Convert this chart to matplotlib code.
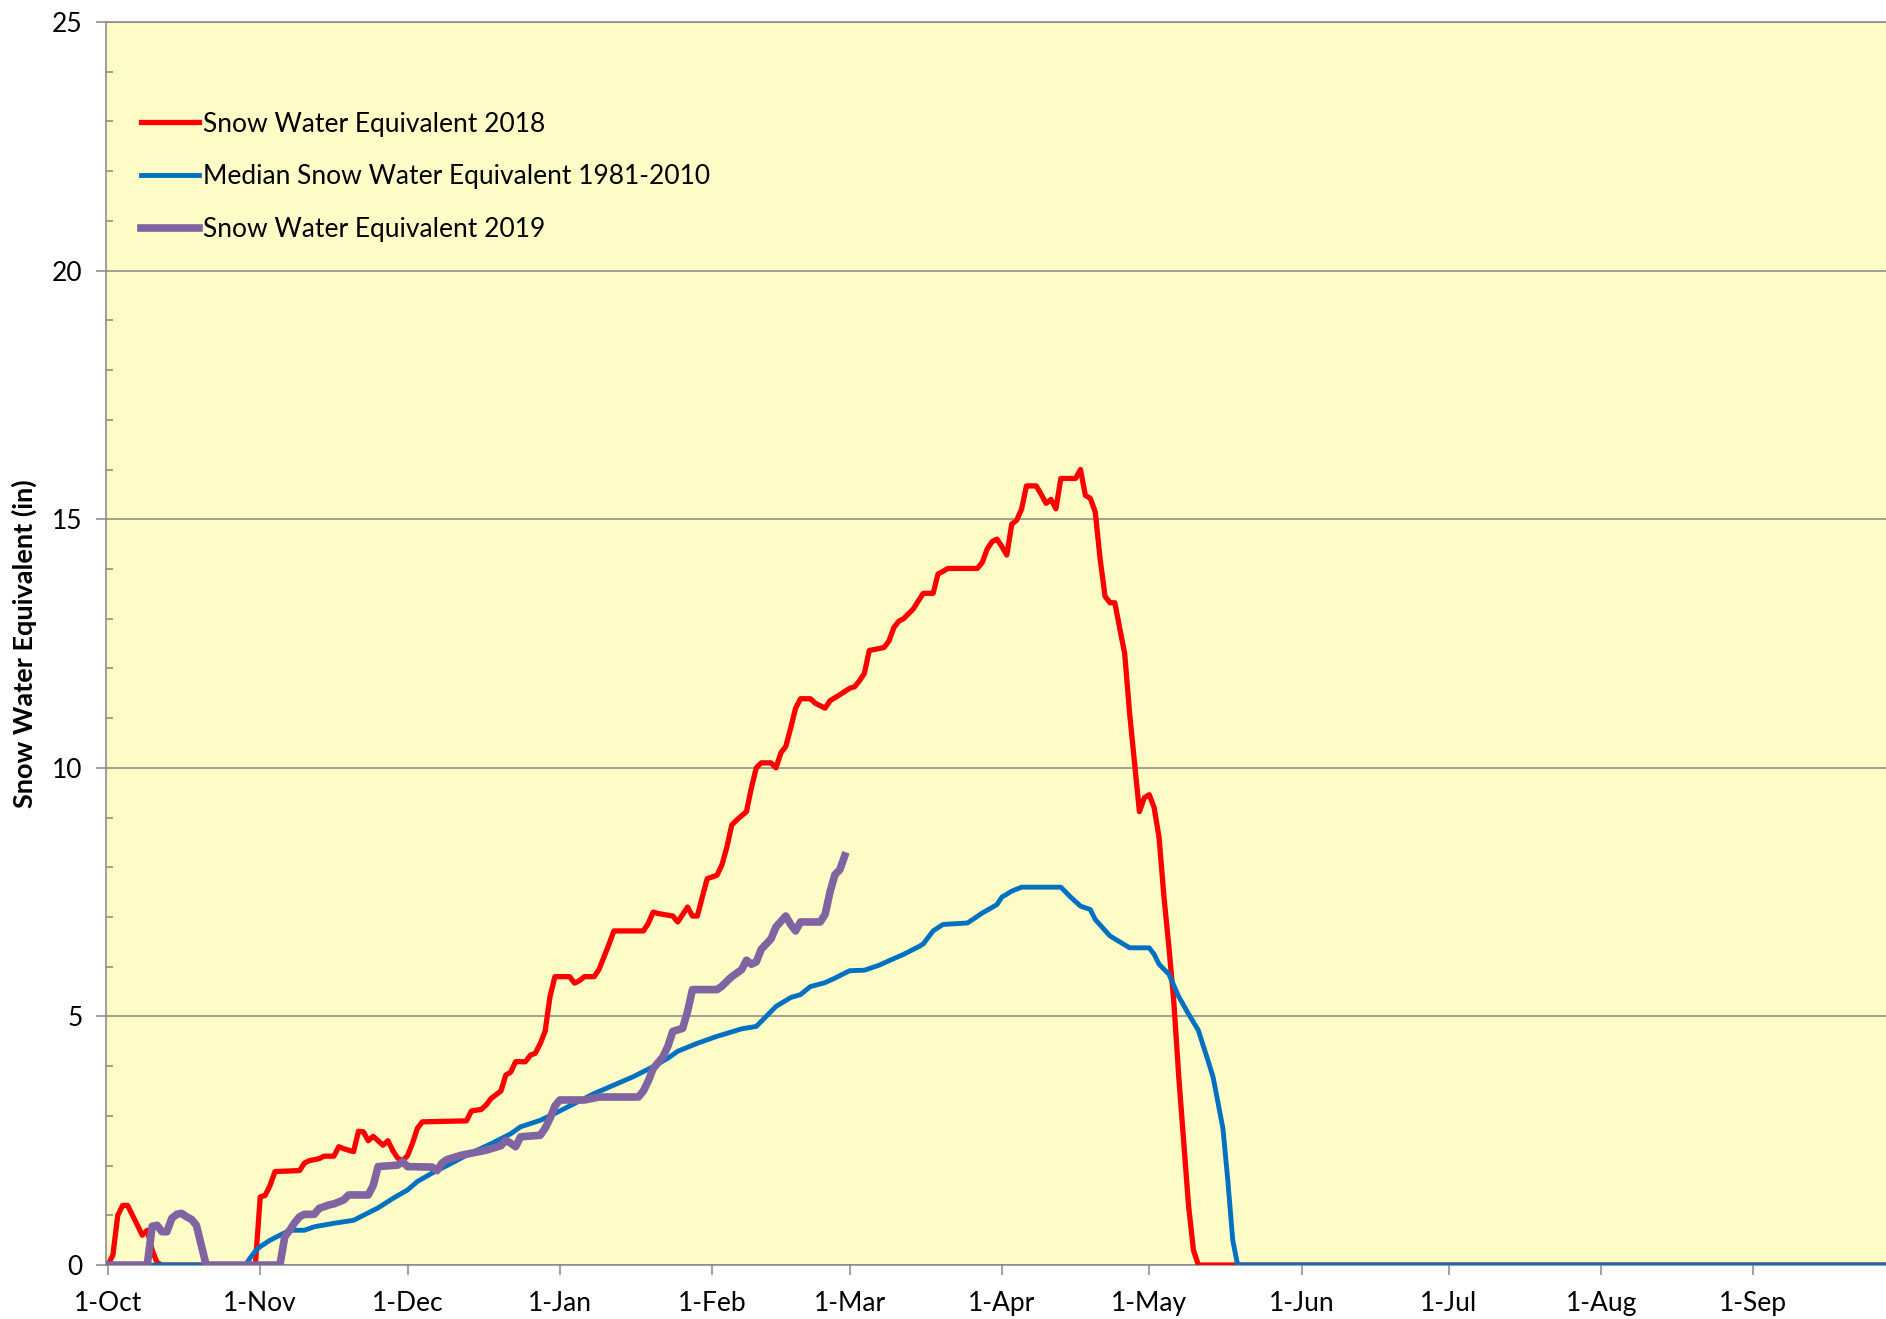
import matplotlib
matplotlib.use("Agg")
import matplotlib.pyplot as plt
from matplotlib.ticker import MultipleLocator

plt.rcParams['font.family'] = ['Lato', 'DejaVu Sans']

# day of water year (0 = 1-Oct) and snow water equivalent (in)
swe_2018_day = [0, 1, 2, 3, 4, 5, 6, 7, 8, 9, 10, 11, 30, 31, 32, 33, 34, 39, 40, 41, 43, 44, 46, 47,
                48, 50, 51, 52, 53, 54, 56, 57, 58, 59, 60, 61, 62, 63, 64, 73, 74, 76, 77, 78, 80, 81,
                82, 83, 85, 86, 87, 88, 89, 90, 91, 94, 95, 96, 97, 99, 100, 101, 102, 103, 109, 110,
                111, 112, 115, 116, 117, 118, 119, 120, 121, 122, 124, 125, 126, 127, 128, 130, 131,
                132, 133, 135, 136, 137, 138, 139, 140, 141, 143, 144, 146, 147, 149, 151, 152, 153,
                154, 155, 158, 159, 160, 161, 162, 163, 164, 165, 166, 168, 169, 170, 171, 177, 178,
                179, 180, 181, 182, 183, 184, 185, 186, 187, 189, 190, 191, 192, 193, 194, 197, 198,
                199, 200, 201, 202, 203, 204, 205, 206, 207, 208, 209, 210, 211, 212, 213, 214, 215,
                216, 217, 218, 219, 220, 221, 222, 364]
swe_2018 = [0, 0.2, 1.0, 1.2, 1.2, 1.0, 0.8, 0.6, 0.7, 0.3, 0.05, 0, 0, 1.37, 1.4, 1.6, 1.88, 1.9, 2.05,
            2.1, 2.14, 2.19, 2.19, 2.38, 2.34, 2.28, 2.69, 2.68, 2.5, 2.59, 2.41, 2.5, 2.3, 2.15, 2.1,
            2.2, 2.45, 2.75, 2.88, 2.9, 3.1, 3.13, 3.22, 3.35, 3.5, 3.82, 3.88, 4.09, 4.09, 4.22, 4.26,
            4.45, 4.7, 5.4, 5.8, 5.8, 5.67, 5.72, 5.8, 5.8, 5.95, 6.2, 6.45, 6.72, 6.72, 6.87, 7.1,
            7.07, 7.02, 6.9, 7.05, 7.2, 7.02, 7.02, 7.4, 7.77, 7.84, 8.05, 8.4, 8.85, 8.95, 9.12, 9.6,
            10.0, 10.1, 10.1, 10.0, 10.3, 10.43, 10.8, 11.2, 11.39, 11.39, 11.3, 11.2, 11.35, 11.47,
            11.6, 11.63, 11.75, 11.9, 12.36, 12.42, 12.55, 12.82, 12.95, 13.0, 13.1, 13.2, 13.36,
            13.51, 13.51, 13.9, 13.95, 14.01, 14.01, 14.13, 14.4, 14.55, 14.6, 14.45, 14.28, 14.9,
            14.98, 15.2, 15.67, 15.67, 15.5, 15.32, 15.4, 15.21, 15.82, 15.82, 16.0, 15.48, 15.42,
            15.15, 14.2, 13.45, 13.32, 13.32, 12.8, 12.3, 11.1, 10.1, 9.12, 9.4, 9.46, 9.2, 8.6, 7.4,
            6.4, 5.3, 3.8, 2.5, 1.2, 0.3, 0, 0]

median_day = [0, 28, 29, 30, 31, 33, 35, 37, 40, 42, 46, 50, 52, 55, 58, 61, 63, 66, 68, 70, 73, 78,
              82, 84, 88, 91, 95, 99, 103, 107, 111, 114, 116, 120, 124, 129, 132, 133, 136, 139,
              141, 143, 146, 148, 151, 154, 157, 159, 162, 165, 166, 168, 170, 175, 178, 181, 182,
              184, 186, 194, 196, 198, 200, 201, 204, 206, 208, 212, 213, 214, 216, 218, 220, 222,
              224, 225, 227, 228, 229, 230, 364]
median_swe = [0, 0, 0.15, 0.28, 0.37, 0.5, 0.6, 0.7, 0.7, 0.77, 0.84, 0.9, 1.0, 1.15, 1.34, 1.51,
              1.68, 1.85, 1.95, 2.05, 2.21, 2.44, 2.64, 2.78, 2.91, 3.05, 3.25, 3.45, 3.62, 3.79,
              3.99, 4.16, 4.3, 4.46, 4.6, 4.75, 4.8, 4.9, 5.2, 5.38, 5.44, 5.6, 5.68, 5.77, 5.92,
              5.93, 6.03, 6.12, 6.25, 6.4, 6.46, 6.72, 6.85, 6.88, 7.08, 7.25, 7.4, 7.52, 7.6, 7.6,
              7.4, 7.22, 7.15, 6.95, 6.62, 6.5, 6.38, 6.38, 6.25, 6.05, 5.85, 5.4, 5.05, 4.72, 4.1,
              3.78, 2.75, 1.7, 0.5, 0, 0]

swe_2019_day = [0, 8, 9, 10, 11, 12, 13, 14, 15, 16, 17, 18, 19, 20, 35, 36, 37, 38, 39, 40, 42, 43,
                45, 46, 48, 49, 53, 54, 55, 59, 60, 61, 66, 67, 68, 69, 72, 77, 80, 81, 82, 83, 84,
                88, 89, 90, 91, 92, 97, 100, 108, 109, 110, 111, 113, 114, 115, 117, 118, 119, 124,
                125, 127, 129, 130, 131, 132, 133, 135, 136, 138, 139, 140, 141, 145, 146, 147, 148,
                149, 150]
swe_2019 = [0, 0, 0.78, 0.8, 0.67, 0.67, 0.94, 1.02, 1.04, 0.97, 0.92, 0.8, 0.4, 0, 0, 0.57, 0.7,
            0.85, 0.97, 1.02, 1.02, 1.14, 1.21, 1.23, 1.31, 1.41, 1.41, 1.6, 1.98, 2.01, 2.08, 1.98,
            1.97, 1.9, 2.05, 2.12, 2.21, 2.31, 2.4, 2.51, 2.45, 2.38, 2.58, 2.61, 2.75, 2.95, 3.2,
            3.32, 3.32, 3.38, 3.38, 3.5, 3.7, 3.95, 4.19, 4.4, 4.7, 4.76, 5.1, 5.54, 5.54, 5.61, 5.8,
            5.94, 6.13, 6.05, 6.1, 6.35, 6.56, 6.8, 7.02, 6.85, 6.72, 6.9, 6.9, 7.05, 7.5, 7.85, 7.95,
            8.23]

month_labels = ['1-Oct', '1-Nov', '1-Dec', '1-Jan', '1-Feb', '1-Mar', '1-Apr', '1-May', '1-Jun',
                '1-Jul', '1-Aug', '1-Sep']
month_lengths = [31, 30, 31, 31, 28, 31, 30, 31, 30, 31, 31, 30]

month_starts = [sum(month_lengths[:i]) for i in range(len(month_labels))]

fig = plt.figure(figsize=(18.86, 13.19), dpi=100)
ax = fig.add_axes([0.0562, 0.0409, 0.9438, 0.9424])
ax.set_facecolor('#FDFBC6')

grid_c = '#868686'
ax.plot(swe_2018_day, swe_2018, color='#FF0000', lw=3.8, zorder=3, label='Snow Water Equivalent 2018')
ax.plot(median_day, median_swe, color='#0070C0', lw=3.5, zorder=4,
        label='Median Snow Water Equivalent 1981-2010')
ax.plot(swe_2019_day, swe_2019, color='#8064A2', lw=5.5, zorder=5, label='Snow Water Equivalent 2019')

ax.set_xlim(-0.4, 362)
ax.set_ylim(0, 25)
ax.set_xticks(month_starts)
ax.set_xticklabels(month_labels)
ax.yaxis.set_major_locator(MultipleLocator(5))
ax.yaxis.set_minor_locator(MultipleLocator(1))
ax.grid(axis='y', which='major', color=grid_c, lw=1.1, zorder=1)

ax.spines['right'].set_visible(False)
for side in ['left', 'bottom', 'top']:
    ax.spines[side].set_color(grid_c)
    ax.spines[side].set_linewidth(1.1)

ax.tick_params(axis='x', which='major', direction='out', length=7, width=1.1, color=grid_c,
               labelsize=19, pad=12)
ax.tick_params(axis='y', which='major', direction='out', length=7, width=1.1, color=grid_c,
               labelsize=19, pad=10)
ax.tick_params(axis='y', which='minor', direction='in', length=5, width=1.1, color=grid_c)

ax.set_ylabel('Snow Water Equivalent (in)', fontsize=19.5, fontweight='bold')
ax.yaxis.set_label_coords(-0.039, 0.5)

ax.legend(loc='upper left', bbox_to_anchor=(0.0197, 0.928), frameon=False, fontsize=19,
          handlelength=2.2, handletextpad=0.15, labelspacing=1.05, borderpad=0, borderaxespad=0)

fig.savefig('out.png', dpi=100)
